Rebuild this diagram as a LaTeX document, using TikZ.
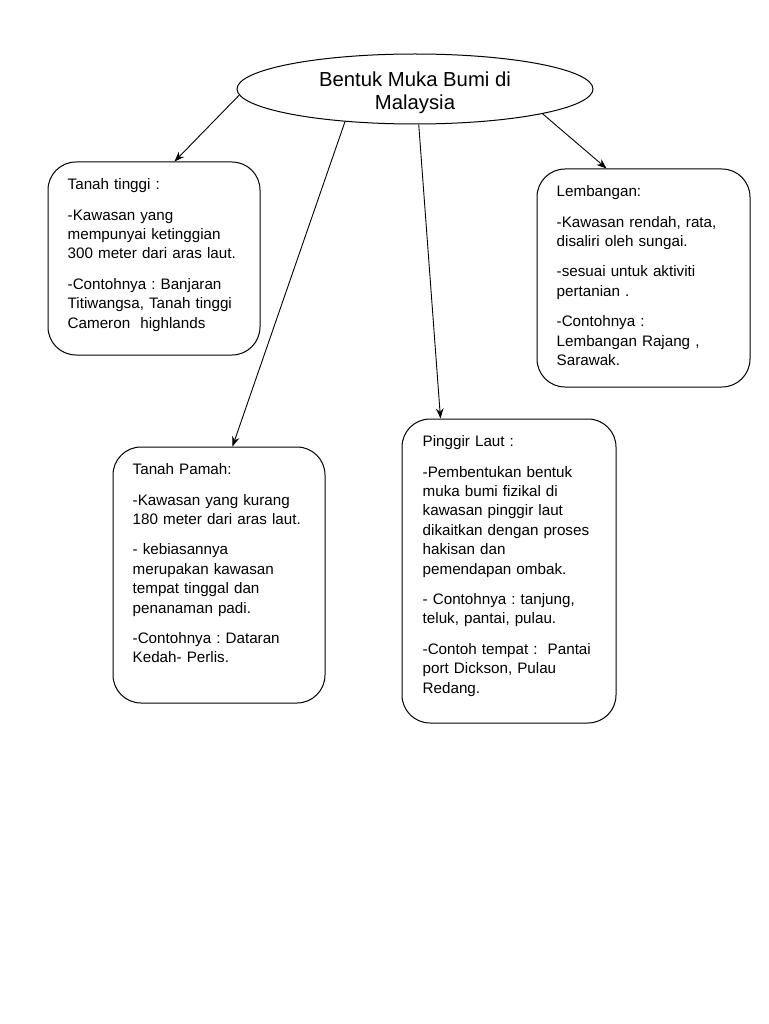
\documentclass[tikz,border=0pt]{standalone}
\usepackage{fontspec}
\setmainfont{Liberation Sans}
\usetikzlibrary{shapes.geometric,arrows.meta}
\frenchspacing
\begin{document}
\begin{tikzpicture}[x=1pt,y=-1pt,
  box/.style={draw, line width=1pt, rounded corners=28pt, inner sep=0pt},
  body/.style={anchor=north west, inner sep=0pt, text width=#1, align=left, font=\fontsize{15.2}{19.4}\selectfont},
  link/.style={draw, line width=0.9pt, -{Stealth[length=10pt,width=7.5pt]}}]
\useasboundingbox (0,0) rectangle (768,1024);
\fill[white] (0,0) rectangle (768,1024);
\node[ellipse, draw, line width=1pt, minimum width=356pt, minimum height=70pt, inner sep=0pt] (title) at (415,89) {};
\node[align=center, font=\fontsize{20.3}{23.4}\selectfont, inner sep=0pt] (titletext) at (415,93) {Bentuk Muka Bumi di\\Malaysia};

\node[box, minimum width=212pt, minimum height=193pt] (tinggi) at (154,258.5) {};
\node[box, minimum width=213pt, minimum height=218pt] (lembah) at (643.5,278) {};
\node[box, minimum width=212pt, minimum height=256pt] (pamah) at (219,575) {};
\node[box, minimum width=214pt, minimum height=304pt] (laut) at (509,571) {};

\node[body=185pt] (tinggitext) at ([xshift=20pt,yshift=-17pt]tinggi.north west)
 {Tanah tinggi :\\[11pt]
  -Kawasan yang\\
  mempunyai ketinggian\\
  300 meter dari aras laut.\\[11pt]
  -Contohnya : Banjaran\\
  Titiwangsa, Tanah tinggi\\
  Cameron\ \ highlands};
\node[body=185pt] (lembahtext) at ([xshift=20pt,yshift=-17pt]lembah.north west)
 {Lembangan:\\[11pt]
  -Kawasan rendah, rata,\\
  disaliri oleh sungai.\\[11pt]
  -sesuai untuk aktiviti\\
  pertanian .\\[11pt]
  -Contohnya :\\
  Lembangan Rajang ,\\
  Sarawak.};
\node[body=185pt] (pamahtext) at ([xshift=20pt,yshift=-17pt]pamah.north west)
 {Tanah Pamah:\\[11pt]
  -Kawasan yang kurang\\
  180 meter dari aras laut.\\[11pt]
  - kebiasannya\\
  merupakan kawasan\\
  tempat tinggal dan\\
  penanaman padi.\\[11pt]
  -Contohnya : Dataran\\
  Kedah- Perlis.};
\node[body=190pt] (lauttext) at ([xshift=21pt,yshift=-17pt]laut.north west)
 {Pinggir Laut :\\[11pt]
  -Pembentukan bentuk\\
  muka bumi fizikal di\\
  kawasan pinggir laut\\
  dikaitkan dengan proses\\
  hakisan dan\\
  pemendapan ombak.\\[11pt]
  - Contohnya : tanjung,\\
  teluk, pantai, pulau.\\[11pt]
  -Contoh tempat :\ \ Pantai\\
  port Dickson, Pulau\\
  Redang.};

\draw[link] (title.182) -- ([xshift=127pt]tinggi.north west);
\draw[link] (title.205) -- ([xshift=120pt]pamah.north west);
\draw[link] (title.276) -- ([xshift=39pt]laut.north west);
\draw[link] (title.349.3) -- ([xshift=70pt]lembah.north west);
\end{tikzpicture}
\end{document}
